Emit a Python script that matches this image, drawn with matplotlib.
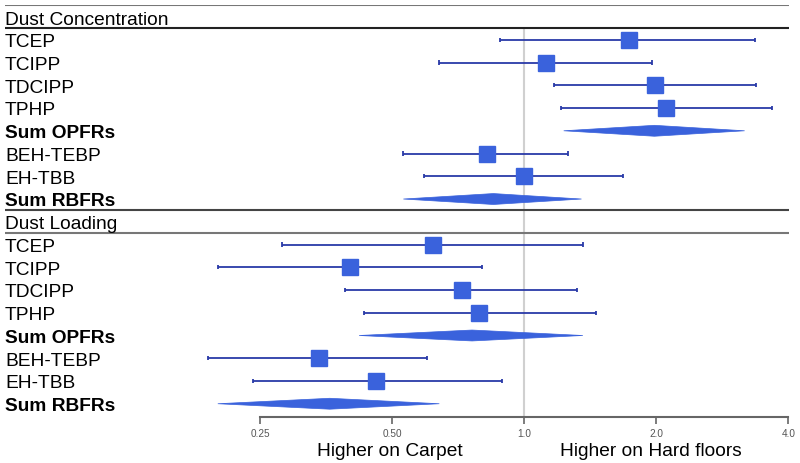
import matplotlib
matplotlib.use("Agg")
import matplotlib.pyplot as plt
from matplotlib.patches import Polygon
import numpy as np

plt.rcParams['font.family'] = ['Liberation Sans', 'DejaVu Sans']

sections = ["Dust Concentration", "Dust Loading"]
labels = ["TCEP", "TCIPP", "TDCIPP", "TPHP", "Sum OPFRs", "BEH-TEBP", "EH-TBB", "Sum RBFRs"]
is_summary = [False, False, False, False, True, False, False, True]

# Dust concentration: estimate, lower, upper (ratio hard floors / carpet)
conc_est = [1.73, 1.12, 1.99, 2.11, 1.98, 0.82, 1.00, 0.85]
conc_lo  = [0.88, 0.64, 1.17, 1.21, 1.23, 0.53, 0.59, 0.53]
conc_hi  = [3.36, 1.96, 3.38, 3.67, 3.18, 1.26, 1.68, 1.35]

# Dust loading
load_est = [0.62, 0.40, 0.72, 0.79, 0.76, 0.34, 0.46, 0.36]
load_lo  = [0.28, 0.20, 0.39, 0.43, 0.42, 0.19, 0.24, 0.20]
load_hi  = [1.36, 0.80, 1.32, 1.46, 1.36, 0.60, 0.89, 0.64]

xticks = [0.25, 0.5, 1.0, 2.0, 4.0]
xticklabels = ["0.25", "0.50", "1.0", "2.0", "4.0"]

fig = plt.figure(figsize=(8, 4.63), dpi=100)
ax = fig.add_axes([5/800, 1 - 416.7/463, 784/800, 411.7/463])
ax.set_xscale('log', base=2)
xmin = 2 ** ((5 - 524.3) / 132.0)
xmax = 2 ** ((789 - 524.3) / 132.0)
ax.set_xlim(xmin, xmax)
ax.set_ylim(17.57, -0.53)

sq_color = "#3a62dc"
line_color = "#2a3aa8"
fs = 13.8
toff = 0.13

# reference line at 1.0
ax.vlines(1.0, 0.48, 17.57, color="#d0d0d0", lw=1.5, zorder=0)

data = [(conc_est, conc_lo, conc_hi), (load_est, load_lo, load_hi)]
for s, (est, lo, hi) in enumerate(data):
    base = s * 9
    ax.text(xmin, base + toff, sections[s], ha='left', va='center', fontsize=fs, color='black')
    top_col = "#777777" if s == 0 else "#444444"
    ax.hlines(base - 0.53, xmin, xmax, color=top_col, lw=1.5)
    ax.hlines(base + 0.48, xmin, xmax, color="#222222" if s == 0 else "#777777", lw=1.5)
    for i, lab in enumerate(labels):
        y = base + 1 + i
        ax.text(xmin, y + toff, lab, ha='left', va='center', fontsize=fs,
                fontweight='bold' if is_summary[i] else 'normal', color='black')
        if is_summary[i]:
            h = 0.24
            poly = Polygon([(lo[i], y), (est[i], y - h), (hi[i], y), (est[i], y + h)],
                           closed=True, facecolor=sq_color, edgecolor=sq_color, lw=0.5, zorder=3)
            ax.add_patch(poly)
        else:
            ax.hlines(y, lo[i], hi[i], color=line_color, lw=1.3, zorder=2)
            ax.vlines([lo[i], hi[i]], y - 0.09, y + 0.09, color=line_color, lw=1.3, zorder=2)
            ax.plot(est[i], y, marker='s', ms=11, color=sq_color, mec=sq_color, zorder=3)

for sp in ['top', 'right', 'left']:
    ax.spines[sp].set_visible(False)
ax.spines['bottom'].set_bounds(0.25, 4.0)
ax.spines['bottom'].set_color("#666666")
ax.spines['bottom'].set_linewidth(1.5)
ax.set_yticks([])
ax.set_xticks(xticks)
ax.set_xticklabels(xticklabels)
ax.minorticks_off()
ax.tick_params(axis='x', direction='out', length=5, width=1.2, color="#666666",
               labelsize=7.2, labelcolor="#555555", pad=4)

fig.text(390/800, 1 - 452/463, "Higher on Carpet", ha='center', va='center', fontsize=fs)
fig.text(651/800, 1 - 452/463, "Higher on Hard floors", ha='center', va='center', fontsize=fs)

fig.savefig("out.png", dpi=100)
